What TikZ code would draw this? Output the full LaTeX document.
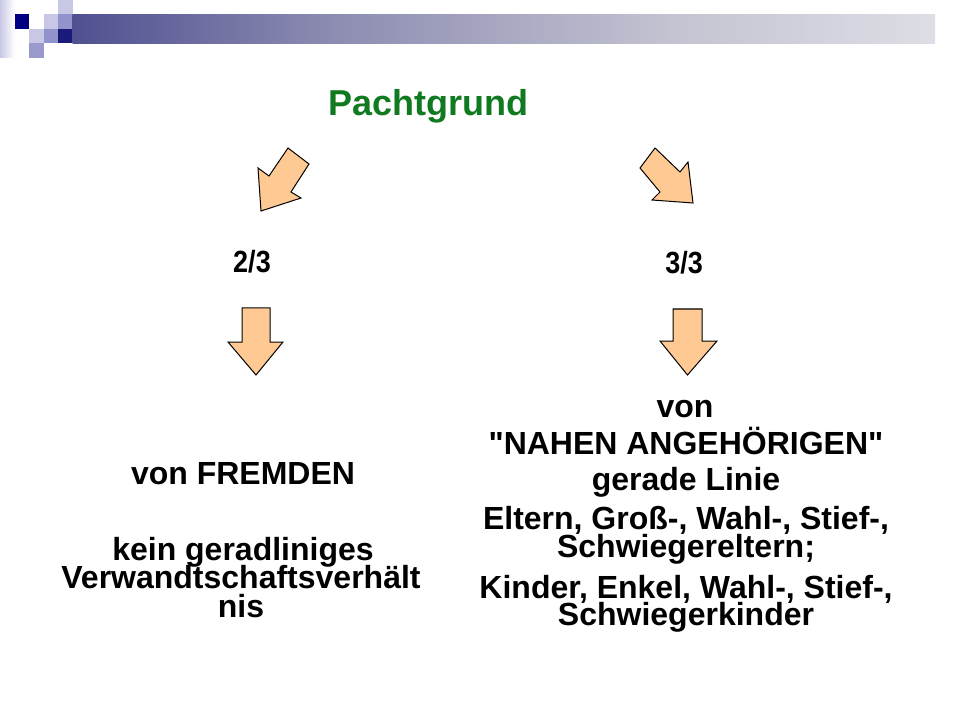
\documentclass[tikz,border=0pt]{standalone}
\usepackage{graphicx}
\usepackage{fontspec}
\setmainfont{Liberation Sans}[Ligatures=TeXOff]
\definecolor{navy}{RGB}{0,0,128}
\definecolor{lav}{RGB}{200,200,230}
\definecolor{lavmid}{RGB}{146,146,204}
\definecolor{lavmid2}{RGB}{153,153,204}
\definecolor{barA}{RGB}{26,26,122}
\definecolor{barB}{RGB}{60,60,134}
\definecolor{barC}{RGB}{140,140,178}
\definecolor{barD}{RGB}{196,196,210}
\definecolor{barE}{RGB}{230,230,236}
\definecolor{barF}{RGB}{252,252,253}
\definecolor{peach}{RGB}{255,201,147}
\definecolor{titlegreen}{RGB}{16,122,32}
\pgfdeclarehorizontalshading{barshade}{100bp}{color(0bp)=(barA); color(20bp)=(barB); color(40bp)=(barC); color(60bp)=(barD); color(80bp)=(barE); color(100bp)=(barF)}
\begin{document}
\begin{tikzpicture}[x=0.75pt,y=-0.75pt,
  blockarrow/.style={fill=peach,draw=black,line width=0.75pt,line join=miter},
  txt/.style={font=\bfseries\fontsize{24}{28}\selectfont,inner sep=0pt,anchor=base},
  fractxt/.style={font=\bfseries\fontsize{23}{26}\selectfont,inner sep=0pt,anchor=base},
  titletxt/.style={font=\bfseries\fontsize{27}{32}\selectfont,text=titlegreen,inner sep=0pt,anchor=base}]
\useasboundingbox (0,0) rectangle (960,720);
\fill[white] (0,0) rectangle (960,720);
% header decoration
\shade[left color=lav,right color=white] (0,0) rectangle (14.5,58);
\fill[navy] (14.5,14.5) rectangle (29,29);
\fill[lav] (29,29) rectangle (43.5,43.5);
\fill[lavmid2] (29,43.5) rectangle (43.5,58);
\fill[lav] (43.5,14.5) rectangle (58,29);
\fill[lavmid] (43.5,29) rectangle (58,43.5);
\fill[lav] (58,0) rectangle (72.5,14.5);
\fill[lavmid] (58,14.5) rectangle (72.5,29);
\fill[barA] (58,29) rectangle (72.5,43.5);
\shade[shading=barshade] (72.5,14.5) rectangle (935,43.5);
% title
\node[titletxt] (title) at (428.5,116) {Pachtgrund};
% diagonal arrows
\draw[blockarrow] (288,148) -- (309,164) -- (291,192) -- (301,198) -- (261,211) -- (258,168) -- (269,176) -- cycle;
\draw[blockarrow] (655,148) -- (680,172) -- (688,162) -- (693,203) -- (652,200) -- (660,192) -- (640,168) -- cycle;
% fractions
\node[fractxt] (f1) at (252,273) {\scalebox{0.88}[1]{2/3}};
\node[fractxt] (f2) at (684,274) {\scalebox{0.88}[1]{3/3}};
% down arrows
\draw[blockarrow] (242,308) -- (270,308) -- (270,342) -- (283,342) -- (256,375) -- (228,342) -- (242,342) -- cycle;
\draw[blockarrow] (673,309) -- (702,309) -- (702,341) -- (717,341) -- (687.5,375) -- (660,341) -- (673,341) -- cycle;
% left texts
\node[txt] (l1) at (243,484) {von FREMDEN};
\node[txt] (l2) at (243,560) {kein geradliniges};
\node[txt] (l3) at (241,588) {Verwandtschaftsverhält};
\node[txt] (l4) at (241,617) {nis};
% right texts
\node[txt] (r1) at (685,417) {von};
\node[txt] (r2) at (686,454) {"NAHEN ANGEHÖRIGEN"};
\node[txt] (r3) at (686,490) {gerade Linie};
\node[txt] (r4) at (686,529) {Eltern, Groß-, Wahl-, Stief-,};
\node[txt] (r5) at (686,557) {Schwiegereltern;};
\node[txt] (r6) at (686,598) {Kinder, Enkel, Wahl-, Stief-,};
\node[txt] (r7) at (686,625) {Schwiegerkinder};
\end{tikzpicture}
\end{document}
